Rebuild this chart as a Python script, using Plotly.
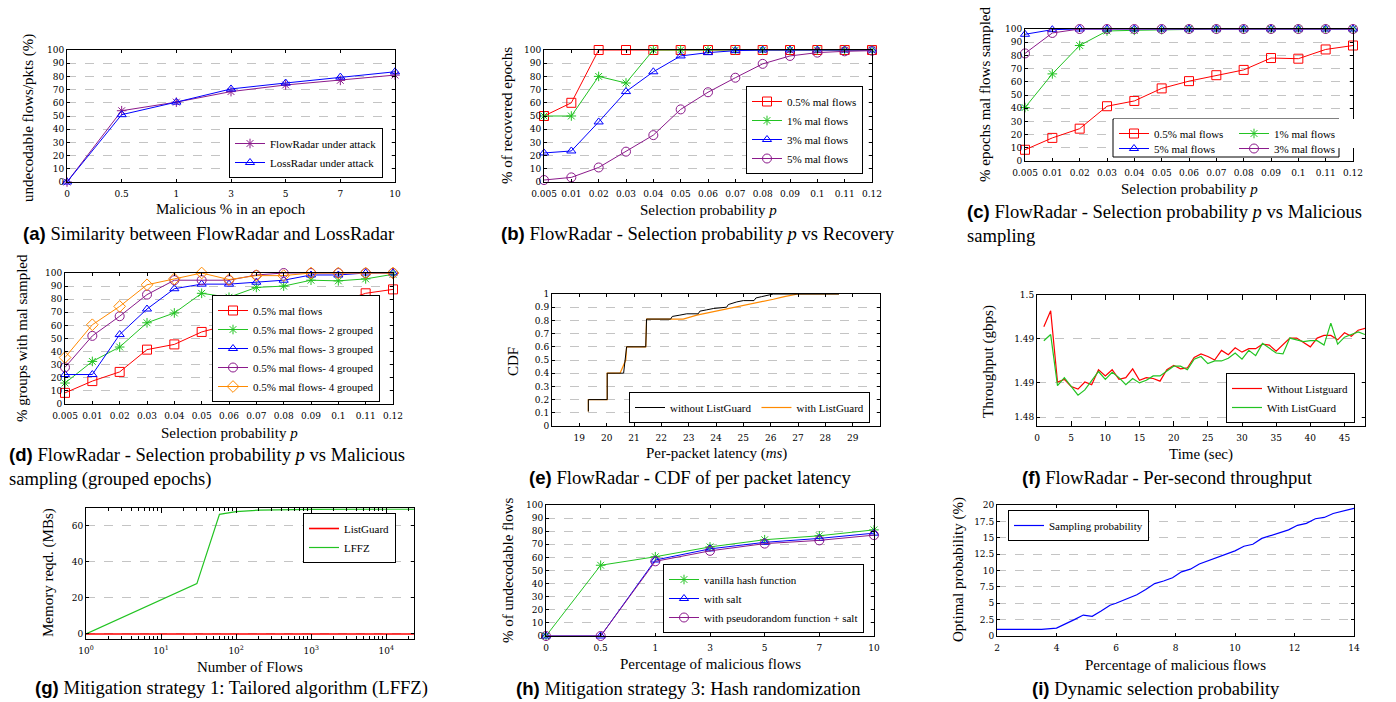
import plotly.graph_objects as go

W, H = 1396, 702

# ---------------- data ----------------
# (a)
mal_pct = ["0", "0.5", "1", "3", "5", "7", "10"]
a_flowradar = [0, 54, 60.5, 68.5, 73.5, 77, 81]
a_lossradar = [0, 51, 60.5, 70.5, 75, 79.5, 83.5]

# (b), (c), (d)
sel_prob = ["0.005", "0.01", "0.02", "0.03", "0.04", "0.05", "0.06",
            "0.07", "0.08", "0.09", "0.1", "0.11", "0.12"]
b_mal05 = [50, 60, 100, 100, 100, 100, 100, 100, 100, 100, 100, 100, 100]
b_mal1 = [50, 50, 80, 75, 100, 100, 100, 100, 100, 100, 100, 100, 100]
b_mal3 = [22, 23.5, 45.5, 68.5, 83.5, 95.5, 98, 99.5, 100, 100, 100, 100, 100]
b_mal5 = [1.5, 3.5, 11, 23, 35.5, 55, 68, 79, 89.5, 95.5, 98, 99, 99.5]

c_mal05 = [8.5, 17.5, 24.5, 41.5, 45.5, 55, 60.5, 65, 69, 78, 77.5, 84.5, 87.5]
c_mal1 = [40.5, 66, 87.5, 98.5, 99, 99.5, 100, 100, 100, 100, 100, 100, 100]
c_mal5 = [96, 99.5, 100, 100, 100, 100, 100, 100, 100, 100, 100, 100, 100]
c_mal3 = [81.5, 97, 100, 100, 100, 100, 100, 100, 100, 100, 100, 100, 100]

d_single = [8.5, 17.5, 24.5, 41.5, 45.5, 55, 60.5, 65, 69, 78, 77.5, 84.5, 87.5]
d_group2 = [16, 32.5, 43.5, 62, 69.5, 84.5, 81.5, 89, 90, 94.5, 94, 95.5, 99]
d_group3 = [22.5, 22.5, 53, 72.5, 88, 91.5, 91.5, 93, 94.5, 98.5, 98.5, 100, 100]
d_group4 = [28, 52, 67, 83.5, 94.5, 94.5, 94.5, 98.5, 100, 100, 100, 100, 100]
d_group4b = [35.5, 60.5, 74.5, 91, 95.5, 100, 95, 98, 98, 100, 100, 100, 100]

# (e) CDF of per-packet latency
e_lat_without = [19.33, 19.33, 20.02, 20.02, 20.62, 20.73, 21.43, 21.46, 22.34, 22.4,
                 22.68, 22.93, 23.35, 23.41, 23.66, 23.9, 24.39, 24.45, 24.76, 25.0,
                 25.39, 25.46, 25.67, 25.91, 26.1, 28.5]
e_cdf_without = [0.11, 0.2, 0.2, 0.4, 0.4, 0.6, 0.6, 0.81, 0.81, 0.83,
                 0.84, 0.85, 0.85, 0.87, 0.88, 0.89, 0.9, 0.92, 0.94, 0.95,
                 0.95, 0.97, 0.98, 0.99, 1.0, 1.0]
e_lat_with = [19.33, 19.33, 20.02, 20.02, 20.49, 20.7, 20.73, 21.43, 21.46, 22.8,
              23.3, 24.0, 24.7, 25.5, 26.1, 26.5, 27.0, 28.5]
e_cdf_with = [0.11, 0.2, 0.2, 0.4, 0.4, 0.5, 0.6, 0.6, 0.81, 0.81,
              0.84, 0.87, 0.9, 0.93, 0.96, 0.98, 1.0, 1.0]

# (f) per-second throughput
f_time = list(range(1, 49))
f_without = [1.4964, 1.4982, 1.4901, 1.4904, 1.4896, 1.4893, 1.4901, 1.4898, 1.4915, 1.4908,
             1.4915, 1.4904, 1.4906, 1.4916, 1.4903, 1.4906, 1.4905, 1.4902, 1.4915, 1.4920,
             1.4916, 1.4917, 1.4929, 1.4933, 1.4930, 1.4926, 1.4937, 1.4932, 1.4940, 1.4935,
             1.4939, 1.4939, 1.4944, 1.4943, 1.4936, 1.4943, 1.4951, 1.4951, 1.4946, 1.4941,
             1.4951, 1.4954, 1.4954, 1.4949, 1.4957, 1.4953, 1.4960, 1.4962]
f_with = [1.4948, 1.4955, 1.4897, 1.4906, 1.4896, 1.4886, 1.4892, 1.4902, 1.4913, 1.4904,
          1.4912, 1.4906, 1.4898, 1.4905, 1.4900, 1.4903, 1.4908, 1.4908, 1.4914, 1.4919,
          1.4919, 1.4915, 1.4927, 1.4930, 1.4922, 1.4925, 1.4925, 1.4928, 1.4934, 1.4927,
          1.4937, 1.4931, 1.4945, 1.4940, 1.4934, 1.4933, 1.4951, 1.4949, 1.4947, 1.4948,
          1.4948, 1.4943, 1.4968, 1.4944, 1.4952, 1.4955, 1.4958, 1.4955]
f_tickvals = [1.4861, 1.49, 1.495, 1.5]
f_ticktext = ["1.48", "1.49", "1.49", "1.5"]

# (g) memory
g_flows = [1, 30, 60, 100, 200, 500, 1000, 10000, 23400]
g_lffz = [0, 28, 66.5, 68, 68.8, 69.1, 69.2, 69.3, 69.3]
g_listguard = [0, 0, 0, 0, 0, 0, 0, 0, 0]

# (h)
h_vanilla = [0, 54, 60.5, 68, 73.5, 76.5, 81]
h_salt = [0, 0, 58, 66.5, 71.5, 74.5, 78.5]
h_prf_salt = [0, 0, 57, 65, 70.5, 73, 77]

# (i)
i_mal = [2, 3.5, 4.0, 4.3, 4.6, 4.9, 5.2, 5.5, 5.8, 6.0, 6.4, 6.7, 7.0, 7.3, 7.6, 7.9,
         8.2, 8.5, 8.8, 9.1, 9.4, 9.7, 10.0, 10.3, 10.6, 10.9, 11.2, 11.5, 11.8, 12.1,
         12.4, 12.7, 13.0, 13.3, 13.6, 14.0]
i_prob = [1.0, 1.0, 1.2, 1.8, 2.5, 3.2, 3.0, 3.8, 4.7, 5.0, 5.8, 6.3, 7.1, 8.0, 8.4, 8.9,
          9.8, 10.2, 11.0, 11.5, 11.9, 12.4, 13.0, 13.7, 14.0, 14.9, 15.3, 15.8, 16.2, 16.9,
          17.2, 17.9, 18.1, 18.7, 19.0, 19.5]

# ---------------- styling ----------------
RED = "#ff0000"
GREEN = "#22c322"
BLUE = "#0000ff"
PURPLE = "#8b1a8b"
ORANGE = "#ff8a00"
BLACK = "#000000"
GRID = "#c4c4c4"
SERIF = "Liberation Serif"
TICKFONT = dict(family="DejaVu Serif", size=9, color="black")


def xd(a, b):
    return [a / W, b / W]


def yd(top, bottom):
    return [1 - bottom / H, 1 - top / H]


def base_axis(**kw):
    d = dict(showline=True, linecolor="black", linewidth=1, mirror="ticks",
             ticks="inside", ticklen=3, tickcolor="black", tickwidth=1,
             tickfont=TICKFONT, showgrid=False, zeroline=False, automargin=False)
    d.update(kw)
    return d


def grid_y(**kw):
    return base_axis(showgrid=True, gridcolor=GRID, griddash="dash", gridwidth=1, **kw)


def mk(symbol, color, size=8):
    return dict(symbol=symbol, size=size, color=color, line=dict(width=1, color=color))


fig = go.Figure()


def add(x, y, name, color, ax, leg, symbol=None, size=8, width=1):
    mode = "lines+markers" if symbol else "lines"
    kw = dict(x=x, y=y, name=name, mode=mode, line=dict(color=color, width=width),
              xaxis="x" if ax == 1 else "x%d" % ax, yaxis="y" if ax == 1 else "y%d" % ax,
              legend=leg, cliponaxis=False)
    if symbol:
        kw["marker"] = mk(symbol, color, size)
    fig.add_trace(go.Scatter(**kw))


# (a)
add(mal_pct, a_flowradar, "FlowRadar under attack", PURPLE, 1, "legend", "asterisk-open", 8)
add(mal_pct, a_lossradar, "LossRadar under attack", BLUE, 1, "legend", "triangle-up-open", 8)
# (b)
add(sel_prob, b_mal05, "0.5% mal flows", RED, 2, "legend2", "square-open", 9)
add(sel_prob, b_mal1, "1% mal flows", GREEN, 2, "legend2", "asterisk-open", 8)
add(sel_prob, b_mal3, "3% mal flows", BLUE, 2, "legend2", "triangle-up-open", 8)
add(sel_prob, b_mal5, "5% mal flows", PURPLE, 2, "legend2", "circle-open", 9)
# (c)
add(sel_prob, c_mal05, "0.5% mal flows", RED, 3, "legend3", "square-open", 9)
add(sel_prob, c_mal1, "1% mal flows", GREEN, 3, "legend3", "asterisk-open", 8)
add(sel_prob, c_mal5, "5% mal flows", BLUE, 3, "legend4", "triangle-up-open", 8)
add(sel_prob, c_mal3, "3% mal flows", PURPLE, 3, "legend4", "circle-open", 9)
# (d)
add(sel_prob, d_single, "0.5% mal flows", RED, 4, "legend5", "square-open", 9)
add(sel_prob, d_group2, "0.5% mal flows- 2 grouped", GREEN, 4, "legend5", "asterisk-open", 8)
add(sel_prob, d_group3, "0.5% mal flows- 3 grouped", BLUE, 4, "legend5", "triangle-up-open", 8)
add(sel_prob, d_group4, "0.5% mal flows- 4 grouped", PURPLE, 4, "legend5", "circle-open", 9)
add(sel_prob, d_group4b, "0.5% mal flows- 4 grouped", ORANGE, 4, "legend5", "diamond-open", 9)
# (e)
add(e_lat_with, e_cdf_with, "with ListGuard", ORANGE, 5, "legend6", width=1.2)
add(e_lat_without, e_cdf_without, "without ListGuard", BLACK, 5, "legend6", width=1)
# (f)
add(f_time, f_without, "Without Listguard", RED, 6, "legend7", width=1.2)
add(f_time, f_with, "With ListGuard", GREEN, 6, "legend7", width=1.2)
# (g)
add(g_flows, g_listguard, "ListGuard", RED, 7, "legend8", width=1.6)
add(g_flows, g_lffz, "LFFZ", GREEN, 7, "legend8", width=1.2)
# (h)
add(mal_pct, h_vanilla, "vanilla hash function", GREEN, 8, "legend9", "asterisk-open", 8)
add(mal_pct, h_salt, "with salt", BLUE, 8, "legend9", "triangle-up-open", 8)
add(mal_pct, h_prf_salt, "with pseudorandom function + salt", PURPLE, 8, "legend9", "circle-open", 9)
# (i)
add(i_mal, i_prob, "Sampling probability", BLUE, 9, "legend10", width=1.2)

# legend order inside (e): without first
fig.data[15].legendrank = 2
fig.data[16].legendrank = 1

# ---------------- axes ----------------
ticks100 = list(range(0, 101, 10))
layout = dict(
    width=W, height=H, margin=dict(l=0, r=0, t=0, b=0, pad=0, autoexpand=False),
    paper_bgcolor="white", plot_bgcolor="white", showlegend=True,
    font=dict(family=SERIF, color="black"),
)

panels = {
    1: (xd(67, 395), yd(50, 182)),
    2: (xd(544, 872), yd(50, 182)),
    3: (xd(1025, 1353), yd(29, 161)),
    4: (xd(65, 393), yd(273, 404)),
    5: (xd(552, 880), yd(294, 426)),
    6: (xd(1037, 1365), yd(295, 426)),
    7: (xd(86, 414), yd(508, 639)),
    8: (xd(546, 874), yd(505, 636)),
    9: (xd(997, 1354), yd(505, 636)),
}


def an(k):
    return "" if k == 1 else str(k)


for k, (dx, dy) in panels.items():
    layout["xaxis" + an(k)] = base_axis(domain=dx, anchor="y" + an(k), ticklabelstandoff=3)
    layout["yaxis" + an(k)] = grid_y(domain=dy, anchor="x" + an(k))

for k in (1, 8):
    layout["xaxis" + an(k)].update(type="category", categoryorder="array",
                                  categoryarray=mal_pct, range=[0, 6])
    layout["yaxis" + an(k)].update(range=[0, 100], tickvals=ticks100)
for k in (2, 3, 4):
    layout["xaxis" + an(k)].update(type="category", categoryorder="array",
                                  categoryarray=sel_prob, range=[0, 12])
    layout["yaxis" + an(k)].update(range=[0, 100], tickvals=ticks100)

layout["xaxis5"].update(range=[18, 30], tickvals=list(range(19, 30)))
layout["yaxis5"].update(range=[0, 1], tickvals=[i / 10 for i in range(11)],
                        ticktext=["0", "0.1", "0.2", "0.3", "0.4", "0.5", "0.6", "0.7", "0.8", "0.9", "1"])

layout["xaxis6"].update(range=[0, 48], tickvals=list(range(0, 46, 5)), ticklen=5)
layout["yaxis6"].update(range=[1.4851, 1.5], tickvals=f_tickvals, ticktext=f_ticktext)

minor_vals = [m * 10 ** e for e in range(5) for m in range(2, 10)]
layout["xaxis7"].update(type="log", range=[0, 4.37],
                        tickvals=[1, 10, 100, 1000, 10000],
                        ticktext=["10<sup>0</sup>", "10<sup>1</sup>", "10<sup>2</sup>",
                                  "10<sup>3</sup>", "10<sup>4</sup>"],
                        ticklen=5,
                        minor=dict(tickvals=minor_vals, ticks="inside", ticklen=3,
                                   tickcolor="black", showgrid=False))
layout["yaxis7"].update(range=[-2.8, 70], tickvals=[0, 20, 40, 60])

layout["xaxis9"].update(range=[2, 14], tickvals=list(range(2, 15, 2)))
layout["yaxis9"].update(range=[0, 20], tickvals=[0, 2.5, 5, 7.5, 10, 12.5, 15, 17.5, 20],
                        ticktext=["0", "2.5", "5", "7.5", "10", "12.5", "15", "17.5", "20"])

# ---------------- legends ----------------
LEGFONT = dict(family=SERIF, size=11, color="black")


def leg(x, y, xa, ya, **kw):
    d = dict(x=x / W, y=1 - y / H, xanchor=xa, yanchor=ya, bgcolor="white",
             bordercolor="black", borderwidth=1, font=LEGFONT, tracegroupgap=0,
             itemwidth=30)
    d.update(kw)
    return d


layout["legend"] = leg(383, 178, "right", "bottom")
layout["legend2"] = leg(863, 174, "right", "bottom")
layout["legend3"] = leg(1114, 119, "left", "top", orientation="h", borderwidth=0,
                        entrywidth=75, entrywidthmode="pixels")
layout["legend4"] = leg(1114, 134, "left", "top", orientation="h", borderwidth=0,
                        entrywidth=75, entrywidthmode="pixels", bgcolor="rgba(0,0,0,0)")
layout["legend5"] = leg(380, 402, "right", "bottom")
layout["legend6"] = leg(870, 423, "right", "bottom", orientation="h")
layout["legend7"] = leg(1355, 423, "right", "bottom")
layout["legend8"] = leg(396, 513, "right", "top")
layout["legend9"] = leg(864, 633, "right", "bottom")
layout["legend10"] = leg(1008, 510, "left", "top")

fig.update_layout(**layout)

# box around the two-row legend of (c)
fig.add_shape(type="rect", xref="paper", yref="paper",
              x0=1113 / W, x1=1339 / W, y0=1 - 157 / H, y1=1 - 119 / H,
              line=dict(color="black", width=1), fillcolor="white", layer="above")

# ---------------- texts ----------------
def txt(s, x, y, size=15, angle=0, xanchor="center", align="center"):
    fig.add_annotation(text=s, x=x / W, y=1 - y / H, xref="paper", yref="paper",
                       showarrow=False, textangle=angle, xanchor=xanchor, yanchor="middle",
                       align=align, font=dict(family=SERIF, size=size, color="black"))


def lab(t):
    return "<b><span style='font-family:Liberation Sans'>(%s)</span></b>" % t


CAP = 18.6

# axis titles
txt("undecodable flows/pkts (%)", 28, 118, angle=-90)
txt("Malicious % in an epoch", 231, 209)
txt("% of recovered epochs", 507, 116, angle=-90)
txt("Selection probability <i>p</i>", 708, 210)
txt("% epochs mal flows sampled", 985, 95, angle=-90)
txt("Selection probability <i>p</i>", 1189, 189)
txt("% groups with mal sampled", 22, 338, angle=-90)
txt("Selection probability <i>p</i>", 229, 433)
txt("CDF", 513, 362, angle=-90)
txt("Per-packet latency (<i>ms</i>)", 716, 453)
txt("Throughput (gbps)", 988, 362, angle=-90)
txt("Time (sec)", 1201, 454)
txt("Memory reqd. (MBs)", 48, 573, angle=-90)
txt("Number of Flows", 250, 667)
txt("% of undecodable flows", 508, 570, angle=-90)
txt("Percentage of malicious flows", 710, 664)
txt("Optimal probability (%)", 958, 570, angle=-90)
txt("Percentage of malicious flows", 1175, 665)

# captions
txt(lab("a") + " Similarity between FlowRadar and LossRadar", 21, 233, CAP, xanchor="left")
txt(lab("b") + " FlowRadar - Selection probability <i>p</i> vs Recovery", 499, 233, CAP, xanchor="left")
txt(lab("c") + " FlowRadar - Selection probability <i>p</i> vs Malicious<br>sampling", 965, 223, CAP,
    xanchor="left", align="left")
txt(lab("d") + " FlowRadar - Selection probability <i>p</i> vs Malicious<br>sampling (grouped epochs)",
    7, 467, CAP, xanchor="left", align="left")
txt(lab("e") + " FlowRadar - CDF of per packet latency", 690, 478, CAP)
txt(lab("f") + " FlowRadar - Per-second throughput", 1167, 478, CAP)
txt(lab("g") + " Mitigation strategy 1: Tailored algorithm (LFFZ)", 33, 688, CAP, xanchor="left")
txt(lab("h") + " Mitigation strategy 3: Hash randomization", 514, 688, CAP, xanchor="left")
txt(lab("i") + " Dynamic selection probability", 1030, 688, CAP, xanchor="left")

fig.write_html("out.html", post_script="document.body.style.margin='0px';",
               config={"displayModeBar": False})
